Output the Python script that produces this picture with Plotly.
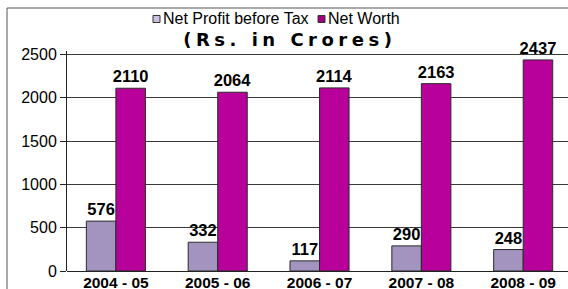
import plotly.graph_objects as go

categories = ["2004 - 05", "2005 - 06", "2006 - 07", "2007 - 08", "2008 - 09"]
net_profit = [576, 332, 117, 290, 248]
net_worth = [2110, 2064, 2114, 2163, 2437]
series_names = ["Net Profit before Tax", "Net Worth"]
title_text = "(Rs. in Crores)"
y_ticks = [0, 500, 1000, 1500, 2000, 2500]

profit_color = "#A293BF"
worth_color = "#B8009A"
legend_profit = "#C9C0E2"
legend_worth = "#A0007E"
font_family = "Liberation Sans, Arial, sans-serif"

fig = go.Figure()
for vals, name, col in [(net_profit, series_names[0], profit_color),
                        (net_worth, series_names[1], worth_color)]:
    fig.add_trace(go.Bar(
        x=categories, y=vals, name=name,
        marker=dict(color=col, line=dict(color="#2a2a2a", width=1)),
        text=[str(v) for v in vals], textposition="outside", constraintext="none",
        textfont=dict(family=font_family, size=16.5, color="black", weight="bold"),
        cliponaxis=False, showlegend=False, hoverinfo="skip",
    ))

fig.update_layout(
    width=568, height=289,
    margin=dict(l=67, r=0, t=51, b=18, pad=0, autoexpand=False),
    paper_bgcolor="white", plot_bgcolor="white",
    barmode="group", bargap=0.42, bargroupgap=0,
    font=dict(family=font_family, color="black"),
    showlegend=False,
)
fig.update_xaxes(
    range=[-0.48, 4.44], showgrid=False, showline=False, ticks="", automargin=False,
    tickfont=dict(family=font_family, size=15.5, color="black", weight="bold"),
)
fig.update_yaxes(
    range=[0, 2540], tickvals=y_ticks, showgrid=True, gridcolor="#3a3a3a", gridwidth=1,
    showline=True, linecolor="#222", linewidth=1, ticks="outside", ticklen=6, automargin=False,
    tickcolor="#222", tickfont=dict(family=font_family, size=16, color="black"),
    zeroline=True, zerolinecolor="#222", zerolinewidth=1,
)

def px_x(px):
    return (px - 67) / 501

def px_y(py):
    return 1 + (51 - py) / 220

# outer frame (left and top edges of the chart box)
fig.add_shape(type="line", xref="paper", yref="paper",
              x0=px_x(7), x1=px_x(7), y0=px_y(8), y1=px_y(295),
              line=dict(color="#555", width=1))
fig.add_shape(type="line", xref="paper", yref="paper",
              x0=px_x(7), x1=px_x(575), y0=px_y(8), y1=px_y(8),
              line=dict(color="#555", width=1))

leg_y = 19
fig.add_shape(type="rect", xref="paper", yref="paper",
              x0=px_x(153), x1=px_x(160), y0=px_y(leg_y + 3.5), y1=px_y(leg_y - 3.5),
              fillcolor=legend_profit, line=dict(color="#333", width=1))
fig.add_annotation(xref="paper", yref="paper", x=px_x(162), y=px_y(leg_y),
                   text=series_names[0], showarrow=False, xanchor="left", yanchor="middle",
                   borderpad=0, font=dict(family=font_family, size=16, color="black"))
fig.add_shape(type="rect", xref="paper", yref="paper",
              x0=px_x(318), x1=px_x(325), y0=px_y(leg_y + 3.5), y1=px_y(leg_y - 3.5),
              fillcolor=legend_worth, line=dict(color="#333", width=1))
fig.add_annotation(xref="paper", yref="paper", x=px_x(327), y=px_y(leg_y),
                   text=series_names[1], showarrow=False, xanchor="left", yanchor="middle",
                   borderpad=0, font=dict(family=font_family, size=16, color="black"))
fig.add_annotation(xref="paper", yref="paper", x=px_x(290), y=px_y(40),
                   text=title_text, showarrow=False, xanchor="center", yanchor="middle",
                   borderpad=0,
                   font=dict(family="DejaVu Sans, sans-serif", size=18, color="black", weight="bold"))

post = """
document.documentElement.style.overflow = 'hidden';
document.body.style.overflow = 'hidden';
document.body.style.margin = '0';
document.body.style.padding = '0';
var t = document.querySelectorAll('.annotation-text');
t.forEach(function(e){ if (e.textContent.indexOf('Crores') >= 0) { e.style.letterSpacing = '4.5px'; } });
"""
fig.write_html("out.html", post_script=post, config={"displayModeBar": False, "staticPlot": True})
